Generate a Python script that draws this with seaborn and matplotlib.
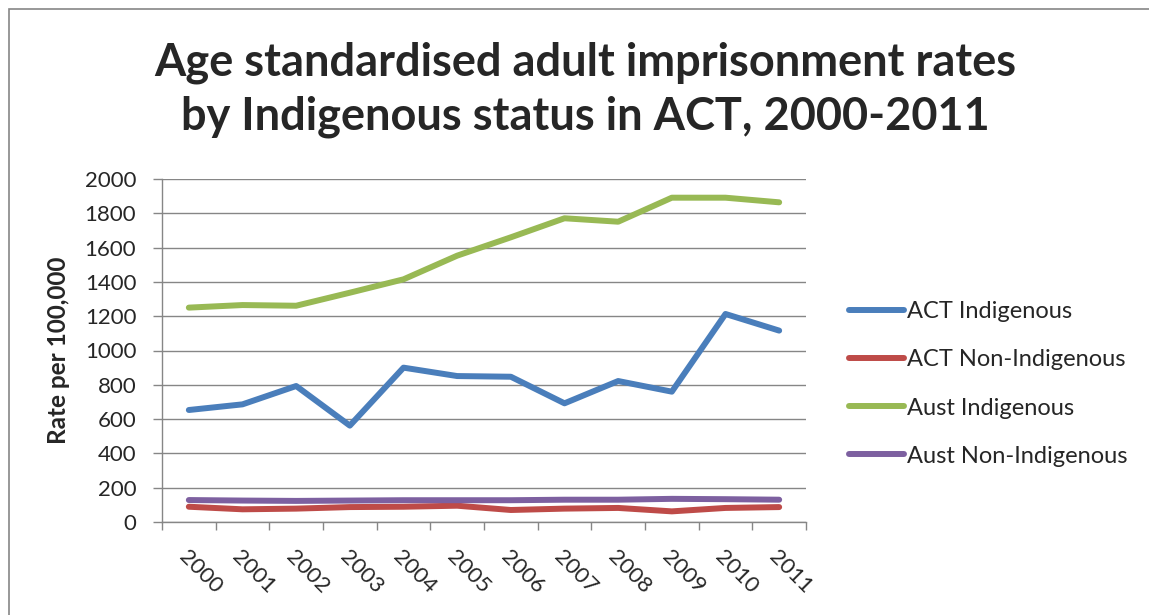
import matplotlib
matplotlib.use("Agg")
import matplotlib.pyplot as plt
import matplotlib.transforms as mtransforms
import seaborn as sns
import pandas as pd
from matplotlib.patches import Rectangle

years = ["2000", "2001", "2002", "2003", "2004", "2005", "2006", "2007", "2008", "2009", "2010", "2011"]
act_indigenous = [653, 686, 793, 562, 900, 851, 847, 692, 822, 760, 1213, 1116]
act_non_indigenous = [89, 74, 78, 87, 89, 95, 70, 78, 82, 62, 82, 87]
aust_indigenous = [1250, 1265, 1261, 1337, 1415, 1553, 1660, 1771, 1751, 1891, 1891, 1864]
aust_non_indigenous = [128, 125, 123, 125, 127, 127, 127, 130, 130, 135, 133, 130]

series_names = ["ACT Indigenous", "ACT Non-Indigenous", "Aust Indigenous", "Aust Non-Indigenous"]
colors = ["#4A7EBB", "#BE4B48", "#98B954", "#7D60A0"]

rows = []
for name, vals in zip(series_names, [act_indigenous, act_non_indigenous, aust_indigenous, aust_non_indigenous]):
    for i, (y, v) in enumerate(zip(years, vals)):
        rows.append({"idx": i, "year": y, "rate": v, "series": name})
df = pd.DataFrame(rows)

sns.set_theme(style="white")
plt.rcParams["font.family"] = ["Lato", "DejaVu Sans"]

W, H = 1149, 615
fig = plt.figure(figsize=(W / 100, H / 100), dpi=100)
ax = fig.add_axes([162 / W, 1 - 522 / H, (806 - 162) / W, (522 - 179) / H])

sns.lineplot(data=df, x="idx", y="rate", hue="series", hue_order=series_names,
             palette=colors, linewidth=4.3, ax=ax, legend=True)
for ln in ax.get_lines():
    ln.set_solid_capstyle("round")
    ln.set_solid_joinstyle("round")

ax.set_xlim(-0.5, 11.5)
ax.set_ylim(0, 2000)
ax.set_yticks(range(0, 2001, 200))
ax.set_yticklabels([str(v) for v in range(0, 2001, 200)], fontsize=16)
ax.set_xticks([i - 0.5 for i in range(13)])
ax.set_xticklabels([])
ax.set_xticks(range(12), minor=True)
ax.set_xticklabels(years, minor=True, rotation=-45, ha="left", va="top",
                   rotation_mode="anchor", fontsize=16)
offset = mtransforms.ScaledTranslation(4 / 100, 0, fig.dpi_scale_trans)
for lab in ax.get_xticklabels(minor=True):
    lab.set_transform(lab.get_transform() + offset)
ax.tick_params(axis="x", which="major", direction="out", length=6, width=1.0,
               color="#868686", bottom=True)
ax.tick_params(axis="x", which="minor", length=0, pad=18)
ax.tick_params(axis="y", direction="out", length=6.5, width=1.0, color="#868686",
               left=True, pad=12)
ax.grid(axis="y", color="#868686", linewidth=1.0)
ax.set_axisbelow(True)
for s in ["top", "right"]:
    ax.spines[s].set_visible(False)
for s in ["left", "bottom"]:
    ax.spines[s].set_color("#868686")
    ax.spines[s].set_linewidth(1.0)

ax.set_xlabel("")
ax.set_ylabel("Rate per 100,000", fontsize=17.5, fontweight="bold")
ax.yaxis.set_label_coords((70 - 162) / (806 - 162), 0.5)

leg = ax.legend(title=None, loc="center left", bbox_to_anchor=(828 / W, 1 - 384 / H),
                bbox_transform=fig.transFigure,
                frameon=False, fontsize=17, handlelength=2.3,
                handletextpad=0.15, labelspacing=1.15)
for h in leg.get_lines():
    h.set_linewidth(4.3)
    h.set_solid_capstyle("round")

fig.text(585 / W, 1 - 42 / H, "Age standardised adult imprisonment rates\nby Indigenous status in ACT, 2000-2011",
         ha="center", va="top", fontsize=32.5, fontweight="bold", linespacing=1.32)

fig.patches.append(Rectangle((9 / W, -0.1), 1.2, 1 - 9 / H + 0.1, transform=fig.transFigure,
                             fill=False, edgecolor="#868686", linewidth=1.2))

fig.savefig("out.png", dpi=100)
